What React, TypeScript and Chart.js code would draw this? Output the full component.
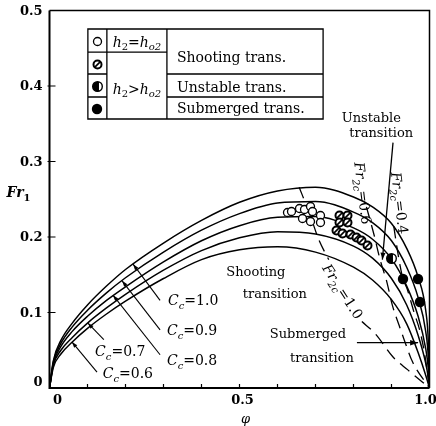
import React, { useEffect, useRef } from 'react';
import { Chart, registerables } from 'chart.js';
Chart.register(...registerables);

// ---------- data ----------
const phiGrid = [0, 0.01, 0.03, 0.06, 0.1, 0.15, 0.2, 0.3, 0.4, 0.5, 0.6, 0.7, 0.8, 0.85, 0.9, 0.94, 0.97, 0.99, 0.997, 1.0];
const frCc10 = [0, 0.036, 0.063, 0.086, 0.110, 0.135, 0.157, 0.192, 0.222, 0.246, 0.261, 0.266, 0.253, 0.240, 0.218, 0.185, 0.147, 0.103, 0.060, 0];
const frCc09 = [0, 0.034, 0.059, 0.081, 0.103, 0.126, 0.146, 0.180, 0.209, 0.231, 0.245, 0.247, 0.233, 0.219, 0.195, 0.160, 0.120, 0.075, 0.040, 0];
const frCc08 = [0, 0.032, 0.055, 0.075, 0.095, 0.116, 0.134, 0.167, 0.195, 0.215, 0.226, 0.227, 0.212, 0.197, 0.171, 0.135, 0.095, 0.052, 0.025, 0];
const frCc07 = [0, 0.030, 0.050, 0.067, 0.086, 0.106, 0.124, 0.156, 0.182, 0.199, 0.207, 0.204, 0.188, 0.172, 0.145, 0.110, 0.070, 0.033, 0.013, 0];
const frCc06 = [0, 0.027, 0.045, 0.061, 0.079, 0.098, 0.115, 0.145, 0.170, 0.183, 0.187, 0.180, 0.160, 0.143, 0.117, 0.085, 0.047, 0.017, 0.005, 0];
const ccValues = ['1.0', '0.9', '0.8', '0.7', '0.6'];

// Fr2c loci (dashed)
const fr2c10UpperPhi = [0.657, 0.685, 0.709, 0.735];
const fr2c10UpperFr = [0.266, 0.230, 0.196, 0.170];
const fr2c10LowerPhi = [0.822, 0.857, 0.904, 0.943, 1.0];
const fr2c10LowerFr = [0.088, 0.072, 0.041, 0.024, 0];
const fr2c06Phi = [0.834, 0.854, 0.870, 0.888, 0.902, 0.920, 0.934, 0.955, 1.0];
const fr2c06Fr = [0.240, 0.203, 0.170, 0.140, 0.110, 0.083, 0.063, 0.035, 0];
const fr2c04Phi = [0.906, 0.918, 0.929, 0.942, 0.960, 0.974, 0.987, 1.0];
const fr2c04Fr = [0.214, 0.175, 0.147, 0.130, 0.099, 0.077, 0.046, 0];

// experimental points
const openPhi = [0.625, 0.638, 0.659, 0.672, 0.686, 0.693, 0.667, 0.686, 0.712, 0.712];
const openFr = [0.232, 0.234, 0.238, 0.236, 0.240, 0.234, 0.225, 0.220, 0.228, 0.219];
const hatchPhi = [0.764, 0.764, 0.783, 0.783, 0.754, 0.772, 0.791, 0.807, 0.822, 0.836];
const hatchFr = [0.229, 0.219, 0.229, 0.219, 0.209, 0.205, 0.203, 0.199, 0.195, 0.189];
const halfPhi = [0.901];
const halfFr = [0.172];
const fullPhi = [0.929, 0.971, 0.976];
const fullFr = [0.145, 0.145, 0.114];

// axes
const xTickValues = [0, 0.5, 1.0];
const xTickLabels = ['0', '0.5', '1.0'];
const xMinor = [0.1, 0.2, 0.3, 0.4, 0.6, 0.7, 0.8, 0.9];
const yTickValues = [0, 0.1, 0.2, 0.3, 0.4, 0.5];
const yTickLabels = ['0', '0.1', '0.2', '0.3', '0.4', '0.5'];

// annotation anchors in data units
const ccTips = [[0.220, 0.164], [0.191, 0.142], [0.167, 0.123], [0.101, 0.086], [0.059, 0.061]];
const ccEnds = [[0.291, 0.116], [0.291, 0.077], [0.291, 0.044], [0.143, 0.064], [0.125, 0.021]];
const ccLabelPos = [[0.312, 0.117], [0.309, 0.077], [0.309, 0.037], [0.120, 0.049], [0.140, 0.020]];

const FONT = '"DejaVu Serif", "Liberation Serif", serif';

type Part = { t: string; i?: boolean; b?: boolean; sub?: boolean };
const fontFor = (p: Part, size: number) =>
  `${p.i ? 'italic ' : ''}${p.b ? 'bold ' : ''}${p.sub ? Math.round(size * 0.68) : size}px ${FONT}`;

function drawRich(ctx: CanvasRenderingContext2D, parts: Part[], x: number, y: number, size: number, align: 'left' | 'center' | 'right' = 'left') {
  let w = 0;
  for (const p of parts) { ctx.font = fontFor(p, size); w += ctx.measureText(p.t).width; }
  let cx = align === 'left' ? x : align === 'center' ? x - w / 2 : x - w;
  ctx.textAlign = 'left';
  ctx.textBaseline = 'alphabetic';
  const base = y + size * 0.36;
  for (const p of parts) {
    ctx.font = fontFor(p, size);
    ctx.fillText(p.t, cx, base + (p.sub ? size * 0.28 : 0));
    cx += ctx.measureText(p.t).width;
  }
}

function arrowHead(ctx: CanvasRenderingContext2D, fx: number, fy: number, tx: number, ty: number, len = 6, wid = 2.2) {
  const a = Math.atan2(ty - fy, tx - fx);
  ctx.beginPath();
  ctx.moveTo(tx, ty);
  ctx.lineTo(tx - len * Math.cos(a) + wid * Math.sin(a), ty - len * Math.sin(a) - wid * Math.cos(a));
  ctx.lineTo(tx - len * Math.cos(a) - wid * Math.sin(a), ty - len * Math.sin(a) + wid * Math.cos(a));
  ctx.closePath();
  ctx.fill();
}

function makeMarker(kind: string, r: number): HTMLCanvasElement {
  const s = Math.ceil(r * 2 + 5);
  const c = document.createElement('canvas');
  c.width = s; c.height = s;
  const g = c.getContext('2d')!;
  const m = s / 2;
  g.strokeStyle = '#000';
  g.fillStyle = '#fff';
  g.beginPath(); g.arc(m, m, r, 0, Math.PI * 2);
  if (kind === 'open') {
    g.fill(); g.lineWidth = 1.3; g.stroke();
  } else if (kind === 'hatch') {
    g.fill(); g.lineWidth = 2; g.stroke();
    g.beginPath(); g.moveTo(m - r * 0.6, m + r * 0.6); g.lineTo(m + r * 0.6, m - r * 0.6); g.lineWidth = 1.6; g.stroke();
  } else if (kind === 'half') {
    g.fill(); g.lineWidth = 1.4; g.stroke();
    g.beginPath(); g.arc(m, m, r, Math.PI * 0.4, Math.PI * 1.6); g.closePath(); g.fillStyle = '#000'; g.fill();
  } else {
    g.fillStyle = '#000'; g.fill();
  }
  return c;
}

const pts = (xs: number[], ys: number[]) => xs.map((x, i) => ({ x, y: ys[i] }));

export default function App() {
  const ref = useRef<HTMLCanvasElement>(null);
  useEffect(() => {
    const canvas = ref.current!;
    const mOpen = makeMarker('open', 4);
    const mHatch = makeMarker('hatch', 4);
    const mHalf = makeMarker('half', 4.8);
    const mFull = makeMarker('full', 5.2);

    const crisp = {
      id: 'crisp',
      beforeDatasetsDraw(chart: any) { chart.ctx.imageSmoothingEnabled = false; },
      afterDatasetsDraw(chart: any) { chart.ctx.imageSmoothingEnabled = true; },
    };

    const overlay = {
      id: 'overlay',
      afterDraw(chart: any) {
        const ctx: CanvasRenderingContext2D = chart.ctx;
        const xs = chart.scales.x, ys = chart.scales.y;
        const X = (v: number) => xs.getPixelForValue(v);
        const Y = (v: number) => ys.getPixelForValue(v);
        const { left, right, top, bottom } = chart.chartArea;
        ctx.save();
        ctx.strokeStyle = '#000';
        ctx.fillStyle = '#000';
        // frame
        ctx.lineWidth = 2;
        ctx.beginPath(); ctx.moveTo(left, top); ctx.lineTo(left, bottom); ctx.lineTo(right, bottom); ctx.stroke();
        ctx.lineWidth = 1.5;
        ctx.beginPath(); ctx.moveTo(left, top); ctx.lineTo(right, top); ctx.lineTo(right, bottom); ctx.stroke();
        // ticks (inside)
        ctx.lineWidth = 1.2;
        ctx.beginPath();
        for (const v of [...xMinor, 0.5]) { ctx.moveTo(X(v), bottom); ctx.lineTo(X(v), bottom - 4); }
        for (const v of yTickValues.slice(1, 5)) { ctx.moveTo(left - 2, Y(v)); ctx.lineTo(left + 6, Y(v)); }
        ctx.stroke();
        // tick labels
        ctx.textBaseline = 'middle';
        ctx.font = `bold 13px ${FONT}`;
        ctx.textAlign = 'center';
        xTickValues.forEach((v, i) => {
          ctx.fillText(xTickLabels[i], X(v) + (v === 0 ? 8 : v === 1 ? -4 : 3), bottom + 13);
        });
        ctx.textAlign = 'right';
        yTickValues.forEach((v, i) => {
          ctx.fillText(yTickLabels[i], left - 7, Y(v) - (v === 0 ? 6 : 0) + 1);
        });
        // axis titles
        drawRich(ctx, [{ t: 'Fr', i: true, b: true }, { t: '1', b: true, sub: true }], left - 31, Y(0.2596), 14, 'center');
        drawRich(ctx, [{ t: 'φ', i: true }], X(0.5) + 6, bottom + 30, 13, 'center');

        // Cc labels with leaders
        ctx.lineWidth = 1.1;
        ccValues.forEach((v, i) => {
          const [tx, ty] = ccTips[i];
          const [ex, ey] = ccEnds[i];
          ctx.beginPath(); ctx.moveTo(X(ex), Y(ey)); ctx.lineTo(X(tx), Y(ty)); ctx.stroke();
          arrowHead(ctx, X(ex), Y(ey), X(tx), Y(ty), 6, 2);
          const [lx, ly] = ccLabelPos[i];
          drawRich(ctx, [{ t: 'C', i: true }, { t: 'c', i: true, sub: true }, { t: '=' + v }], X(lx), Y(ly), 14, 'left');
        });

        // region labels
        drawRich(ctx, [{ t: 'Unstable' }], X(0.847), Y(0.359), 13, 'center');
        drawRich(ctx, [{ t: 'transition' }], X(0.873), Y(0.338), 13, 'center');
        drawRich(ctx, [{ t: 'Shooting' }], X(0.543), Y(0.155), 13, 'center');
        drawRich(ctx, [{ t: 'transition' }], X(0.593), Y(0.126), 13, 'center');
        drawRich(ctx, [{ t: 'Submerged' }], X(0.680), Y(0.073), 13, 'center');
        drawRich(ctx, [{ t: 'transition' }], X(0.717), Y(0.041), 13, 'center');
        // arrows
        ctx.lineWidth = 1.3;
        ctx.beginPath(); ctx.moveTo(X(0.904), Y(0.325)); ctx.lineTo(X(0.876), Y(0.170)); ctx.stroke();
        arrowHead(ctx, X(0.904), Y(0.325), X(0.876), Y(0.170), 7, 2.5);
        ctx.beginPath(); ctx.moveTo(X(0.809), Y(0.060)); ctx.lineTo(X(0.970), Y(0.060)); ctx.stroke();
        arrowHead(ctx, X(0.809), Y(0.060), X(0.970), Y(0.060), 8, 2.8);

        // rotated Fr2c labels
        const rot = (px: number, py: number, deg: number, val: string) => {
          ctx.save();
          ctx.translate(px, py);
          ctx.rotate(deg * Math.PI / 180);
          drawRich(ctx, [{ t: 'Fr', i: true }, { t: '2c', i: true, sub: true }, { t: '=' + val }], 0, 0, 14, 'center');
          ctx.restore();
        };
        rot(X(0.772), Y(0.128), 57, '1.0');
        rot(X(0.825), Y(0.258), 83, '0.6');
        rot(X(0.922), Y(0.245), 83, '0.4');

        // legend table
        const cx = [0.101, 0.151, 0.309, 0.720].map(X);
        const ry = [0.4755, 0.445, 0.4159, 0.3854, 0.3563].map(Y);
        ctx.fillStyle = '#fff';
        ctx.fillRect(cx[0], ry[0], cx[3] - cx[0], ry[4] - ry[0]);
        ctx.fillStyle = '#000';
        ctx.lineWidth = 1.3;
        ctx.beginPath();
        ctx.rect(cx[0], ry[0], cx[3] - cx[0], ry[4] - ry[0]);
        ctx.moveTo(cx[1], ry[0]); ctx.lineTo(cx[1], ry[4]);
        ctx.moveTo(cx[2], ry[0]); ctx.lineTo(cx[2], ry[4]);
        ctx.moveTo(cx[0], ry[1]); ctx.lineTo(cx[2], ry[1]);
        ctx.moveTo(cx[0], ry[2]); ctx.lineTo(cx[1], ry[2]);
        ctx.moveTo(cx[2], ry[2]); ctx.lineTo(cx[3], ry[2]);
        ctx.moveTo(cx[0], ry[3]); ctx.lineTo(cx[1], ry[3]);
        ctx.moveTo(cx[2], ry[3]); ctx.lineTo(cx[3], ry[3]);
        ctx.stroke();
        const symX = (cx[0] + cx[1]) / 2;
        [mOpen, mHatch, mHalf, mFull].forEach((m, i) => {
          const yc = (ry[i] + ry[i + 1]) / 2 + 1;
          ctx.drawImage(m, Math.round(symX - m.width / 2), Math.round(yc - m.height / 2));
        });
        const hx = (cx[1] + cx[2]) / 2;
        drawRich(ctx, [{ t: 'h', i: true }, { t: '2', sub: true }, { t: '=' }, { t: 'h', i: true }, { t: 'o2', i: true, sub: true }], hx, (ry[0] + ry[1]) / 2 + 1, 14, 'center');
        drawRich(ctx, [{ t: 'h', i: true }, { t: '2', sub: true }, { t: '>' }, { t: 'h', i: true }, { t: 'o2', i: true, sub: true }], hx, (ry[1] + ry[4]) / 2 + 3, 14, 'center');
        drawRich(ctx, [{ t: 'Shooting trans.' }], cx[2] + 10, (ry[0] + ry[2]) / 2 + 5, 14, 'left');
        drawRich(ctx, [{ t: 'Unstable trans.' }], cx[2] + 10, (ry[2] + ry[3]) / 2 + 1, 14, 'left');
        drawRich(ctx, [{ t: 'Submerged trans.' }], cx[2] + 10, (ry[3] + ry[4]) / 2, 14, 'left');
        ctx.restore();
      },
    };

    const curve = (ys: number[]) => ({
      data: pts(phiGrid, ys), showLine: true, pointRadius: 0, borderColor: '#000', borderWidth: 1.5,
      cubicInterpolationMode: 'monotone', order: 2,
    });
    const dashed = (xs: number[], ys: number[]) => ({
      data: pts(xs, ys), showLine: true, pointRadius: 0, borderColor: '#000', borderWidth: 1.3,
      borderDash: [12, 7], cubicInterpolationMode: 'monotone', order: 2,
    });
    const marks = (xs: number[], ys: number[], img: HTMLCanvasElement) => ({
      data: pts(xs, ys), showLine: false, pointStyle: img, pointRadius: 5, order: 1,
    });

    const chart = new Chart(canvas, {
      type: 'scatter',
      data: {
        datasets: [
          curve(frCc10), curve(frCc09), curve(frCc08), curve(frCc07), curve(frCc06),
          dashed(fr2c10UpperPhi, fr2c10UpperFr), dashed(fr2c10LowerPhi, fr2c10LowerFr),
          dashed(fr2c06Phi, fr2c06Fr), dashed(fr2c04Phi, fr2c04Fr),
          marks(openPhi, openFr, mOpen), marks(hatchPhi, hatchFr, mHatch),
          marks(halfPhi, halfFr, mHalf), marks(fullPhi, fullFr, mFull),
        ] as any,
      },
      options: {
        animation: false,
        responsive: false,
        devicePixelRatio: 1,
        layout: { padding: { left: 49.5, right: 6.5, top: 10.5, bottom: 38 } },
        scales: {
          x: { type: 'linear', min: 0, max: 1, display: false },
          y: { type: 'linear', min: 0, max: 0.5, display: false },
        },
        plugins: { legend: { display: false }, tooltip: { enabled: false } },
      } as any,
      plugins: [crisp, overlay],
    });
    return () => chart.destroy();
  }, []);
  return (
    <div style={{ position: 'absolute', left: 0, top: 0, width: 436, height: 426, background: '#fff' }}>
      <canvas ref={ref} width={436} height={426} style={{ display: 'block', width: 436, height: 426 }} />
    </div>
  );
}
